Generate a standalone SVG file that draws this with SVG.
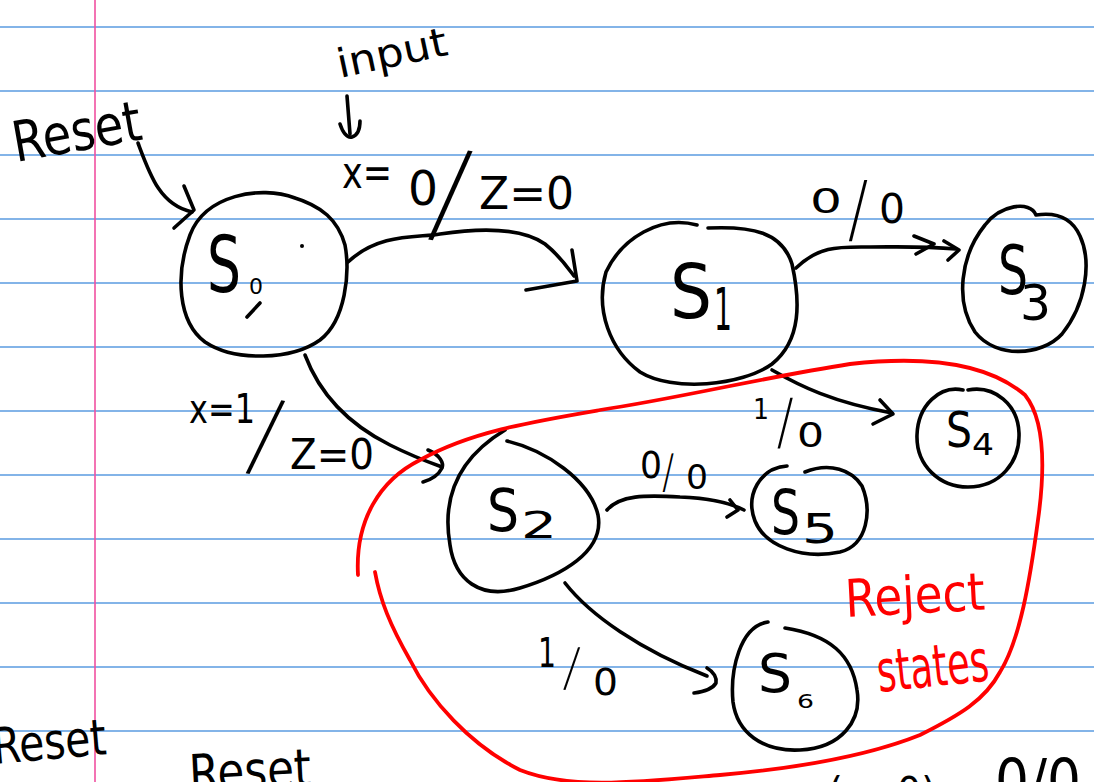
<svg xmlns="http://www.w3.org/2000/svg" width="1094" height="782" viewBox="0 0 1094 782">
<style>
.rule{stroke:#5a9be0;stroke-width:1.6}
.ink{fill:none;stroke:#000;stroke-width:3.6;stroke-linecap:round;stroke-linejoin:round}
.red{fill:none;stroke:#ff0000;stroke-width:3.8;stroke-linecap:round;stroke-linejoin:round}
.t{font-family:"DejaVu Sans","Liberation Sans",sans-serif;fill:#000}
.sl{font-family:Inter,Roboto,Lato,sans-serif;font-weight:200;fill:#000;text-anchor:middle;dominant-baseline:central}
.rt{font-family:"DejaVu Sans","Liberation Sans",sans-serif;fill:#ff0000}
</style>
<rect width="1094" height="782" fill="#fff"/>
<g id="paper">
<line class="rule" x1="0" y1="27" x2="1094" y2="27"/>
<line class="rule" x1="0" y1="91" x2="1094" y2="91"/>
<line class="rule" x1="0" y1="155" x2="1094" y2="155"/>
<line class="rule" x1="0" y1="219" x2="1094" y2="219"/>
<line class="rule" x1="0" y1="283" x2="1094" y2="283"/>
<line class="rule" x1="0" y1="347" x2="1094" y2="347"/>
<line class="rule" x1="0" y1="411" x2="1094" y2="411"/>
<line class="rule" x1="0" y1="475" x2="1094" y2="475"/>
<line class="rule" x1="0" y1="539" x2="1094" y2="539"/>
<line class="rule" x1="0" y1="603" x2="1094" y2="603"/>
<line class="rule" x1="0" y1="667" x2="1094" y2="667"/>
<line class="rule" x1="0" y1="731" x2="1094" y2="731"/>
<line x1="95" y1="0" x2="95" y2="782" stroke="#f050a0" stroke-width="1.6"/>
</g>

<g id="node-s0">
<path class="ink" d="M295,198 C260,185 205,195 190,235 C175,275 178,322 205,342 C235,362 292,360 320,340 C346,320 350,272 345,245 C338,220 322,206 292,197"/>
<text class="t" x="207" y="292" font-size="78" textLength="34" lengthAdjust="spacingAndGlyphs">S</text>
<text class="t" x="249" y="294" font-size="22" textLength="14" lengthAdjust="spacingAndGlyphs">0</text>
<path class="ink" d="M247,317 L260,303"/>
<circle cx="302" cy="246" r="2" fill="#000"/>
</g>

<g id="node-s1">
<path class="ink" d="M697,225 C660,215 622,238 606,272 C595,310 610,350 640,372 C672,392 742,386 772,364 C802,340 800,300 792,264 C782,232 752,226 708,228"/>
<text class="t" x="670" y="318" font-size="75" textLength="42" lengthAdjust="spacingAndGlyphs">S</text>
<text class="t" x="714" y="330" font-size="58" textLength="18" lengthAdjust="spacingAndGlyphs">1</text>
</g>

<g id="node-s3">
<path class="ink" d="M1036,215 C1030,200 1000,205 985,225 C960,256 955,302 975,332 C996,359 1042,356 1062,334 C1086,304 1092,262 1080,236 C1072,218 1056,212 1036,215"/>
<text class="t" x="998" y="294" font-size="68" textLength="30" lengthAdjust="spacingAndGlyphs">S</text>
<text class="t" x="1020" y="320" font-size="50" textLength="31" lengthAdjust="spacingAndGlyphs">3</text>
</g>

<g id="node-s2">
<path class="ink" d="M507,441 C545,450 590,480 598,515 C605,552 560,576 520,588 C480,600 455,580 450,545 C443,505 452,462 505,430"/>
<text class="t" x="487" y="531" font-size="59" textLength="32" lengthAdjust="spacingAndGlyphs">S</text>
<text class="t" x="521" y="538" font-size="37" textLength="36" lengthAdjust="spacingAndGlyphs">2</text>
</g>

<g id="node-s4">
<path class="ink" d="M963,390 C940,385 918,405 917,435 C916,466 940,487 968,487 C1000,487 1020,462 1019,433 C1018,405 995,385 968,390"/>
<text class="t" x="946" y="447" font-size="50" textLength="26" lengthAdjust="spacingAndGlyphs">S</text>
<text class="t" x="972" y="455" font-size="30" textLength="22" lengthAdjust="spacingAndGlyphs">4</text>
</g>

<g id="node-s5">
<path class="ink" d="M787,466 C760,468 745,495 755,521 C765,546 802,560 840,552 C868,545 872,510 862,486 C852,470 830,462 805,472"/>
<text class="t" x="771" y="534" font-size="63" textLength="29" lengthAdjust="spacingAndGlyphs">S</text>
<text class="t" x="802" y="543" font-size="40" textLength="36" lengthAdjust="spacingAndGlyphs">5</text>
</g>

<g id="node-s6">
<path class="ink" d="M768,622 C740,626 730,670 733,702 C737,732 762,752 800,750 C842,748 862,720 857,690 C852,655 830,635 785,628"/>
<text class="t" x="758" y="692" font-size="53" textLength="34" lengthAdjust="spacingAndGlyphs">S</text>
<text class="t" x="797" y="708" font-size="20" textLength="17" lengthAdjust="spacingAndGlyphs">6</text>
</g>

<g id="connectors">
<path class="ink" d="M138,143 C150,175 160,205 192,212"/>
<path class="ink" d="M184,186 L194,210 L174,228"/>
<path class="ink" d="M347,96 L350,134"/>
<path class="ink" d="M340,124 C343,133 347,138 352,137 C358,135 360,128 360,121"/>
<path class="ink" d="M348,262 C380,232 420,238 440,234 C480,228 522,228 545,244 C560,256 568,268 574,276"/>
<path class="ink" d="M526,290 L577,281 L572,250"/>
<path class="ink" d="M796,268 C820,245 840,247 870,247 C900,247 922,246 956,249"/>
<path class="ink" d="M914,236 L934,244 L916,254"/>
<path class="ink" d="M944,241 L959,250 L948,260"/>
<path class="ink" d="M772,370 C800,386 832,402 892,413"/>
<path class="ink" d="M880,400 L893,414 L873,424"/>
<path class="ink" d="M305,355 C320,395 350,425 390,445 C410,455 428,462 442,467"/>
<path class="ink" d="M428,450 C440,455 444,463 442,468 C438,476 430,480 423,482"/>
<path class="ink" d="M607,510 C620,495 645,495 680,497 C710,498 728,502 744,510"/>
<path class="ink" d="M730,500 L738,510 L727,517"/>
<path class="ink" d="M565,583 C590,615 640,650 707,676"/>
<path class="ink" d="M707,668 C714,672 717,678 716,683 C712,690 702,692 694,693"/>
</g>

<g id="labels">
<text class="t" x="16" y="162" font-size="56" textLength="130" lengthAdjust="spacingAndGlyphs" transform="rotate(-10 16 162)">Reset</text>
<text class="t" x="340" y="78" font-size="40" textLength="112" lengthAdjust="spacingAndGlyphs" transform="rotate(-12 340 78)">input</text>
<text class="t" x="342" y="188" font-size="44" textLength="50" lengthAdjust="spacingAndGlyphs">x=</text>
<text class="t" x="408" y="205" font-size="48" textLength="30" lengthAdjust="spacingAndGlyphs">0</text>
<text class="sl" x="451" y="191" font-size="108" transform="rotate(9 451 191)">/</text>
<text class="t" x="479" y="209" font-size="44" textLength="95" lengthAdjust="spacingAndGlyphs">Z=0</text>
<text class="t" x="810" y="213" font-size="34" textLength="32" lengthAdjust="spacingAndGlyphs">0</text>
<text class="sl" x="858" y="208" font-size="70" transform="rotate(-1 858 208)">/</text>
<text class="t" x="879" y="223" font-size="40" textLength="26" lengthAdjust="spacingAndGlyphs">0</text>
<text class="t" x="753" y="419" font-size="28" textLength="16" lengthAdjust="spacingAndGlyphs">1</text>
<text class="sl" x="785" y="421" font-size="58" transform="rotate(-1 785 421)">/</text>
<text class="t" x="797" y="447" font-size="34" textLength="27" lengthAdjust="spacingAndGlyphs">0</text>
<text class="t" x="189" y="423" font-size="40" textLength="66" lengthAdjust="spacingAndGlyphs">x=1</text>
<text class="sl" x="266" y="434" font-size="90" transform="rotate(11 266 434)">/</text>
<text class="t" x="290" y="469" font-size="42" textLength="84" lengthAdjust="spacingAndGlyphs">Z=0</text>
<text class="t" x="640" y="478" font-size="38" textLength="22" lengthAdjust="spacingAndGlyphs">0</text>
<text class="sl" x="668" y="471" font-size="44" transform="rotate(-2 668 471)">/</text>
<text class="t" x="686" y="489" font-size="33" textLength="22" lengthAdjust="spacingAndGlyphs">0</text>
<text class="t" x="538" y="667" font-size="40" textLength="18" lengthAdjust="spacingAndGlyphs">1</text>
<text class="sl" x="572" y="667" font-size="50" transform="rotate(4 572 667)">/</text>
<text class="t" x="593" y="695" font-size="38" textLength="25" lengthAdjust="spacingAndGlyphs">0</text>
<text class="t" x="-6" y="764" font-size="50" textLength="114" lengthAdjust="spacingAndGlyphs" transform="rotate(-5 -6 764)">Reset</text>
<text class="t" x="190" y="792" font-size="52" textLength="122" lengthAdjust="spacingAndGlyphs" transform="rotate(-3 190 792)">Reset</text>
<text class="t" x="828" y="806" font-size="40" textLength="108" lengthAdjust="spacingAndGlyphs">(x=0)</text>
<text class="t" x="995" y="802" font-size="60" textLength="86" lengthAdjust="spacingAndGlyphs">0/0</text>
</g>

<g id="reject-region">
<path class="red" d="M358,575 C355,520 380,480 420,460 C470,432 530,422 600,410 C680,398 760,378 850,364 C930,355 990,365 1025,395 C1045,420 1045,470 1038,520 C1030,580 1020,640 1000,672 C985,700 960,715 920,735 C870,755 800,768 720,775 C640,782 570,790 520,770 C470,745 430,700 410,660 C390,625 380,600 375,572"/>
<text class="rt" x="846" y="617" font-size="52" textLength="140" lengthAdjust="spacingAndGlyphs" transform="rotate(-3 846 617)">Reject</text>
<text class="rt" x="879" y="692" font-size="58" textLength="112" lengthAdjust="spacingAndGlyphs" transform="rotate(-6 879 692)">states</text>
</g>
</svg>
